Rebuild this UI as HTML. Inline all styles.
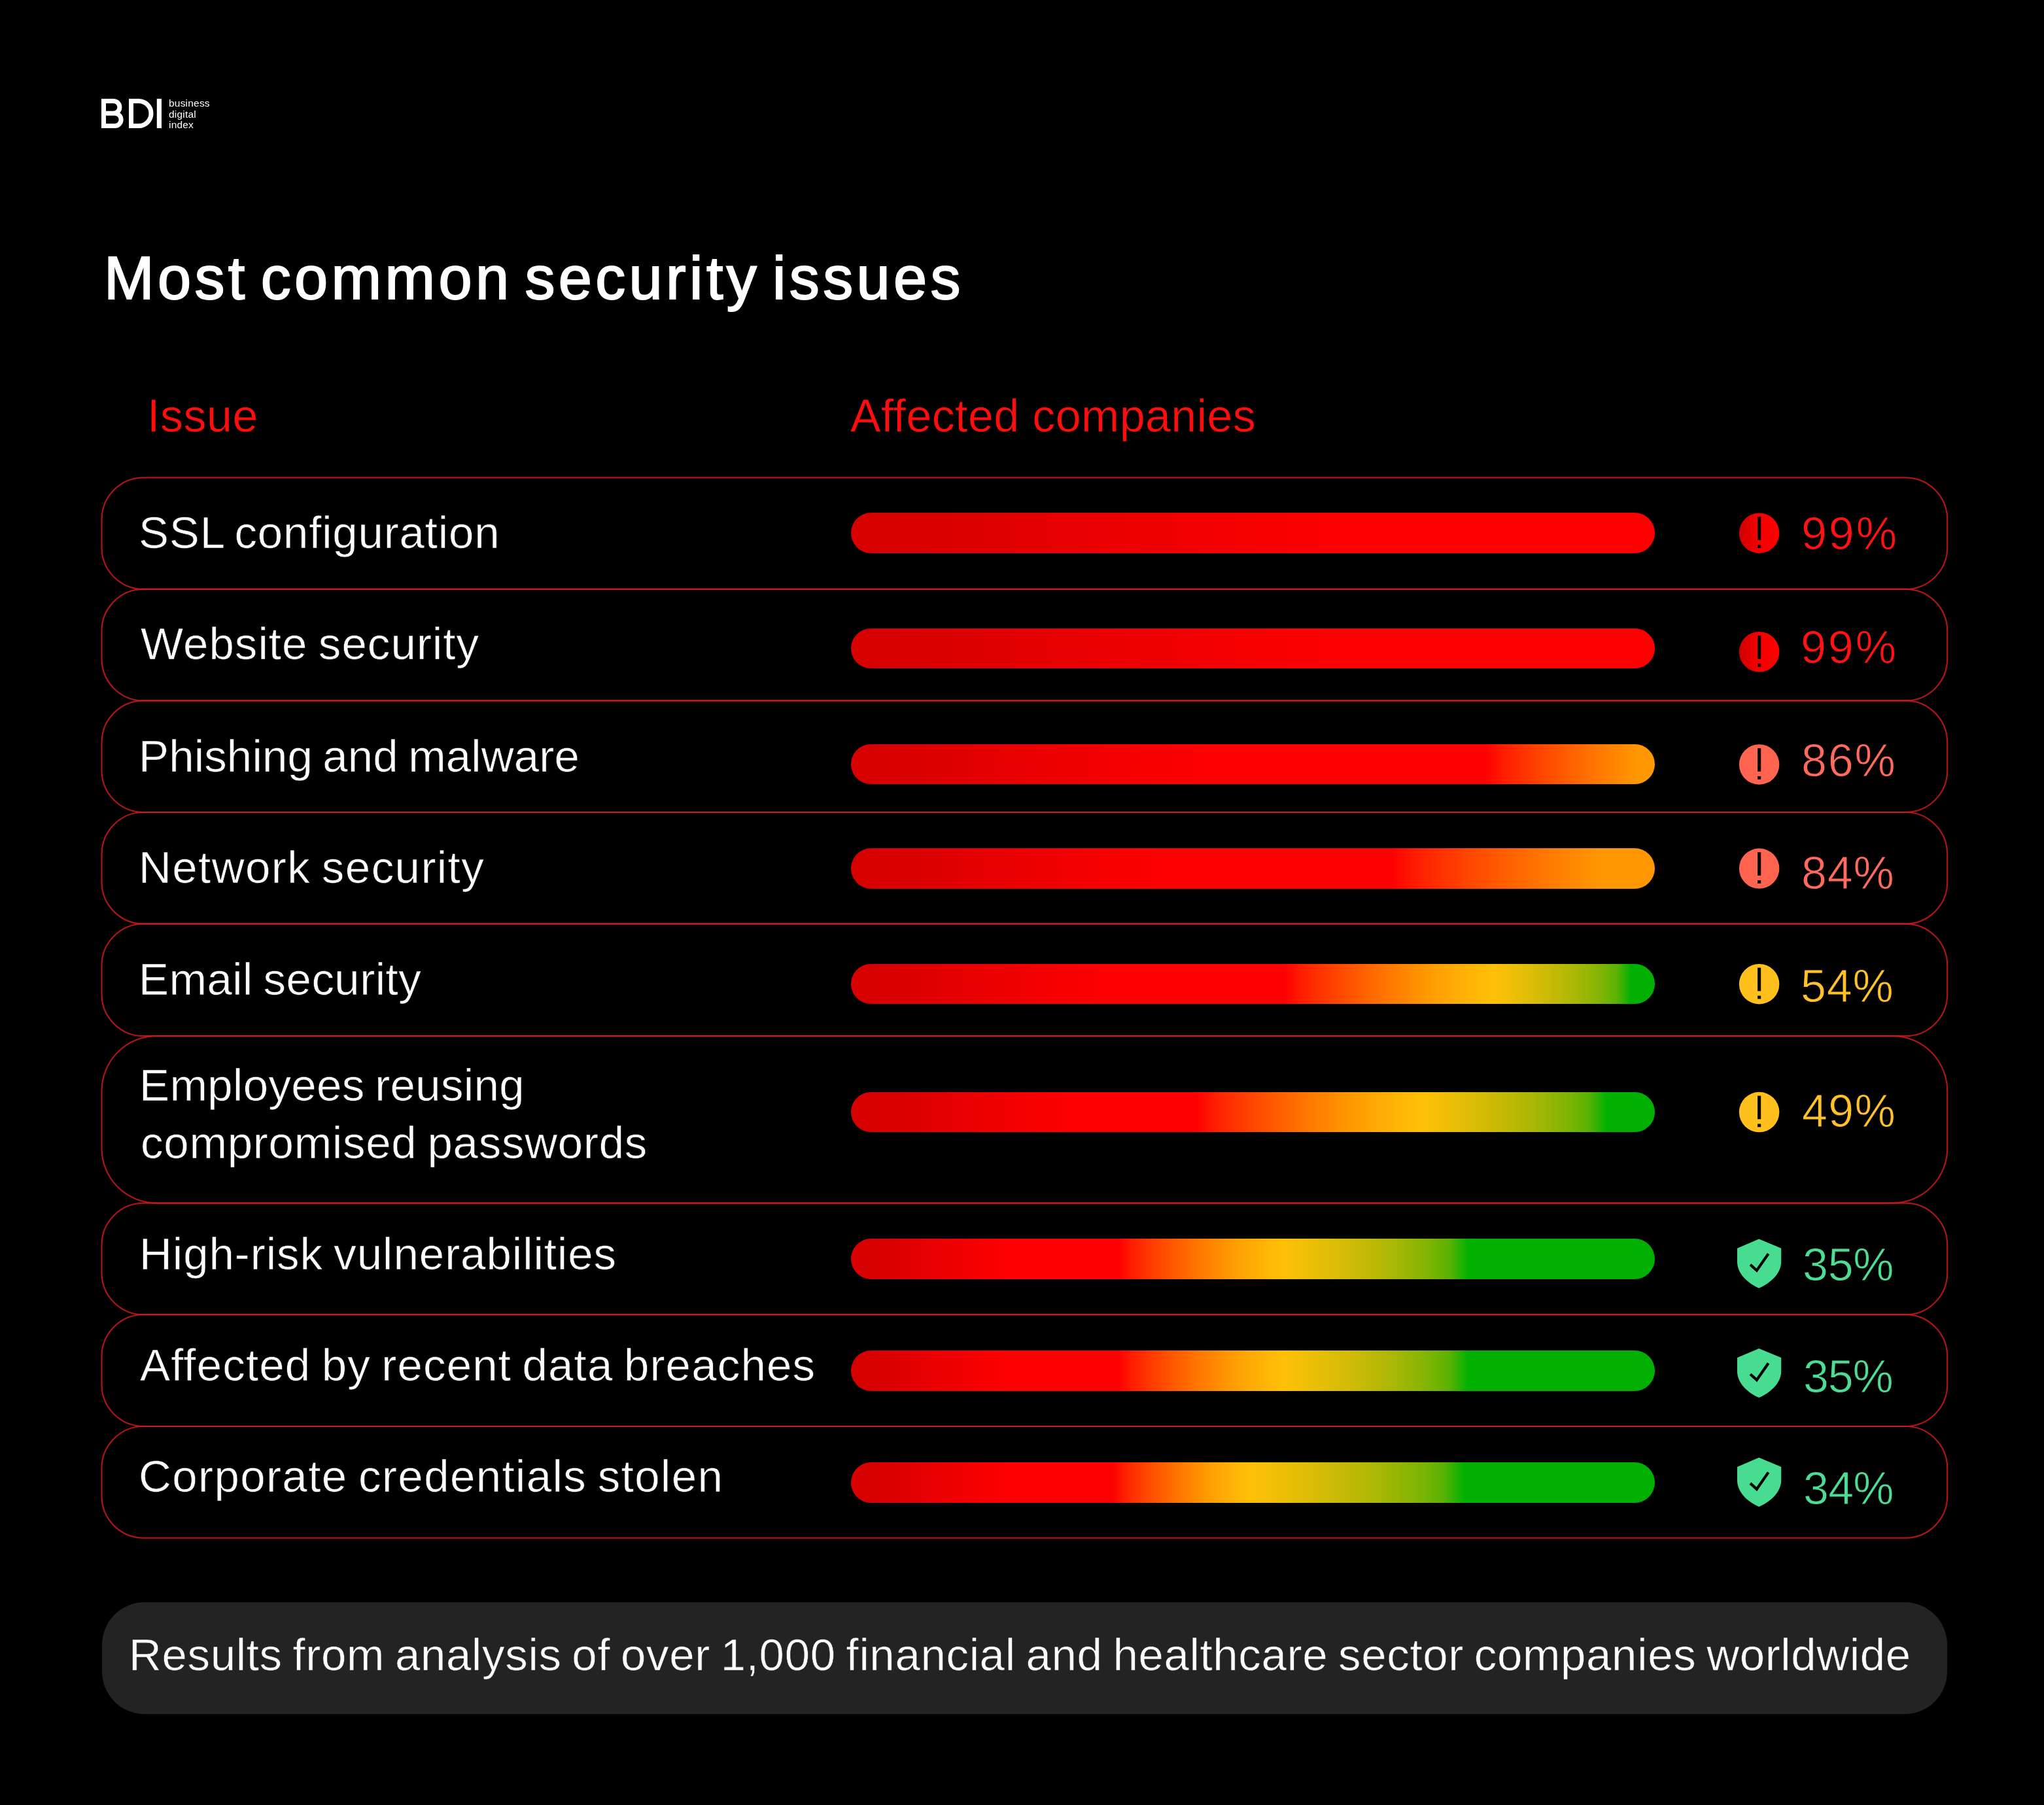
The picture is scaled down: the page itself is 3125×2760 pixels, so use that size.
<!DOCTYPE html>
<html><head><meta charset="utf-8"><title>Most common security issues</title>
<style>
html,body{margin:0;padding:0;background:#000;}
body{width:3125px;height:2760px;position:relative;overflow:hidden;font-family:"Liberation Sans",sans-serif;color:#fff;}
.t{position:absolute;white-space:nowrap;line-height:1;margin:0;will-change:transform;}
.lbl{font-size:69px;color:#fdfdfd;word-spacing:-4px;-webkit-text-stroke:0.6px #000;}
.hd{font-size:70px;color:#ff0d0d;-webkit-text-stroke:0.6px #000;}
.pct{font-size:70px;-webkit-text-stroke:0.9px #000;}
.bar{position:absolute;left:1301.2px;width:1229.3px;height:61.4px;border-radius:31px;}
svg{position:absolute;left:0;top:0;overflow:visible;}
</style></head>
<body>
<svg id="logo" width="3125" height="300" fill="none" stroke="#fff" stroke-width="7" stroke-linejoin="miter">
<path d="M158.5 154.5H173.5a9.4 9.4 0 0 1 0 18.8H175.5a9.6 9.6 0 0 1 0 19.2H158.5ZM158.5 173.3H174"/>
<path d="M200.5 154.5H212a19 19 0 0 1 0 38H200.5Z"/>
<path d="M243.4 151V196" stroke-width="7.2"/>
</svg>
<div class="t" id="logos" style="left:257.5px;top:149.5px;font-size:15.5px;line-height:16.6px;white-space:pre;letter-spacing:0.2px;">business
digital
index</div>
<div class="t " id="title" style="left:159.00px;top:379px;letter-spacing:5.346px;font-size:92px;-webkit-text-stroke:2px #fff;word-spacing:-12px;">Most common security issues</div>
<div class="t hd" id="h1" style="left:225.00px;top:601px;letter-spacing:0.500px;">Issue</div>
<div class="t hd" id="h2" style="left:1299.80px;top:601px;letter-spacing:0.365px;">Affected companies</div>
<svg id="rows" width="3125" height="2760" fill="none" stroke="rgba(215,28,28,0.8)" stroke-width="2.2">
<rect x="155.5" y="730.3" width="2821.7" height="170.6" rx="64" ry="64"/>
<rect x="155.5" y="900.9" width="2821.7" height="170.5" rx="64" ry="64"/>
<rect x="155.5" y="1071.4" width="2821.7" height="170.6" rx="64" ry="64"/>
<rect x="155.5" y="1242" width="2821.7" height="170.6" rx="64" ry="64"/>
<rect x="155.5" y="1412.6" width="2821.7" height="171.6" rx="64" ry="64"/>
<rect x="155.5" y="1584.2" width="2821.7" height="255.5" rx="84" ry="84"/>
<rect x="155.5" y="1839.7" width="2821.7" height="170.5" rx="64" ry="64"/>
<rect x="155.5" y="2010.2" width="2821.7" height="170.8" rx="64" ry="64"/>
<rect x="155.5" y="2181" width="2821.7" height="170.6" rx="64" ry="64"/>
</svg>
<div class="t lbl" id="l1" style="left:211.80px;top:780px;letter-spacing:0.837px;">SSL configuration</div>
<div class="t lbl" id="l2" style="left:214.80px;top:950px;letter-spacing:1.080px;">Website security</div>
<div class="t lbl" id="l3" style="left:212.00px;top:1122px;letter-spacing:0.158px;">Phishing and malware</div>
<div class="t lbl" id="l4" style="left:212.40px;top:1292px;letter-spacing:1.453px;">Network security</div>
<div class="t lbl" id="l5" style="left:212.20px;top:1463px;letter-spacing:0.477px;">Email security</div>
<div class="t lbl" id="l6a" style="left:213.10px;top:1625px;letter-spacing:0.363px;">Employees reusing</div>
<div class="t lbl" id="l6b" style="left:214.50px;top:1713px;letter-spacing:0.760px;">compromised passwords</div>
<div class="t lbl" id="l7" style="left:212.60px;top:1883px;letter-spacing:0.988px;">High-risk vulnerabilities</div>
<div class="t lbl" id="l8" style="left:213.90px;top:2053px;letter-spacing:1.181px;">Affected by recent data breaches</div>
<div class="t lbl" id="l9" style="left:212.00px;top:2223px;letter-spacing:1.407px;">Corporate credentials stolen</div>
<div class="bar" id="b1" style="top:784.2px;background:linear-gradient(90deg,#d60000 0.00%,#d60000 0.80%,#d60000 1.60%,#d70000 2.40%,#d70000 3.20%,#d70000 4.00%,#d70000 4.80%,#d70000 5.60%,#d80000 6.40%,#d80000 7.20%,#d80000 8.00%,#dc0000 13.40%,#e00000 18.80%,#e50000 24.20%,#e90000 29.60%,#ec0000 35.00%,#f00000 40.40%,#f40000 45.80%,#f80000 51.20%,#fb0000 56.60%,#ff0000 62.00%,#ff0000 100.00%);"></div>
<div class="bar" id="b2" style="top:961.1px;background:linear-gradient(90deg,#d60000 0.00%,#d60000 0.80%,#d60000 1.60%,#d70000 2.40%,#d70000 3.20%,#d70000 4.00%,#d70000 4.80%,#d70000 5.60%,#d80000 6.40%,#d80000 7.20%,#d80000 8.00%,#dc0000 13.40%,#e00000 18.80%,#e50000 24.20%,#e90000 29.60%,#ec0000 35.00%,#f00000 40.40%,#f40000 45.80%,#f80000 51.20%,#fb0000 56.60%,#ff0000 62.00%,#ff0000 100.00%);"></div>
<div class="bar" id="b3" style="top:1137.9px;background:linear-gradient(90deg,#d60000 0.00%,#d60000 0.60%,#d60000 1.20%,#d70000 1.80%,#d70000 2.40%,#d70000 3.00%,#d70000 3.60%,#d70000 4.20%,#d80000 4.80%,#d80000 5.40%,#d80000 6.00%,#dc0000 9.90%,#e00000 13.80%,#e50000 17.70%,#e90000 21.60%,#ec0000 25.50%,#f00000 29.40%,#f40000 33.30%,#f80000 37.20%,#fb0000 41.10%,#ff0000 45.00%,#ff0000 79.00%,#ff1a00 80.90%,#ff2c00 82.80%,#ff3c00 84.70%,#ff4b00 86.60%,#ff5900 88.50%,#ff6700 90.40%,#ff7400 92.30%,#ff8000 94.20%,#ff8c00 96.10%,#ff9800 98.00%,#ff9800 100.00%);"></div>
<div class="bar" id="b4" style="top:1297.2px;background:linear-gradient(90deg,#d60000 0.00%,#d60000 0.60%,#d60000 1.20%,#d70000 1.80%,#d70000 2.40%,#d70000 3.00%,#d70000 3.60%,#d70000 4.20%,#d80000 4.80%,#d80000 5.40%,#d80000 6.00%,#dc0000 9.40%,#e00000 12.80%,#e50000 16.20%,#e90000 19.60%,#ec0000 23.00%,#f00000 26.40%,#f40000 29.80%,#f80000 33.20%,#fb0000 36.60%,#ff0000 40.00%,#ff0000 67.30%,#ff1a00 69.91%,#ff2c00 72.52%,#ff3c00 75.13%,#ff4b00 77.74%,#ff5900 80.35%,#ff6700 82.96%,#ff7400 85.57%,#ff8000 88.18%,#ff8c00 90.79%,#ff9800 93.40%,#ff9800 100.00%);"></div>
<div class="bar" id="b5" style="top:1473.9px;background:linear-gradient(90deg,#d60000 0.00%,#d60000 0.50%,#d60000 1.00%,#d70000 1.50%,#d70000 2.00%,#d70000 2.50%,#d70000 3.00%,#d70000 3.50%,#d80000 4.00%,#d80000 4.50%,#d80000 5.00%,#dc0000 7.70%,#e00000 10.40%,#e50000 13.10%,#e90000 15.80%,#ec0000 18.50%,#f00000 21.20%,#f40000 23.90%,#f80000 26.60%,#fb0000 29.30%,#ff0000 32.00%,#ff0000 54.00%,#ff1a00 55.76%,#ff2c00 57.52%,#ff3c00 59.28%,#ff4b00 61.04%,#ff5900 62.80%,#ff6700 64.56%,#ff7400 66.32%,#ff8000 68.08%,#ff8c00 69.84%,#ff9800 71.60%,#ff9d02 72.44%,#ffa103 73.28%,#ffa604 74.12%,#ffaa05 74.96%,#ffae05 75.80%,#ffb206 76.64%,#ffb606 77.48%,#ffba06 78.32%,#ffbd07 79.16%,#ffc107 80.00%,#f3bf07 81.70%,#e6be06 83.40%,#d9bc06 85.10%,#caba06 86.80%,#bab905 88.50%,#a8b705 90.20%,#94b504 91.90%,#7bb404 93.60%,#5ab203 95.30%,#02b002 97.00%,#02b002 100.00%);"></div>
<div class="bar" id="b6" style="top:1669.7px;background:linear-gradient(90deg,#d60000 0.00%,#d60000 0.50%,#d60000 1.00%,#d70000 1.50%,#d70000 2.00%,#d70000 2.50%,#d70000 3.00%,#d70000 3.50%,#d80000 4.00%,#d80000 4.50%,#d80000 5.00%,#dc0000 7.30%,#e00000 9.60%,#e50000 11.90%,#e90000 14.20%,#ec0000 16.50%,#f00000 18.80%,#f40000 21.10%,#f80000 23.40%,#fb0000 25.70%,#ff0000 28.00%,#ff0000 43.00%,#ff1a00 44.90%,#ff2c00 46.80%,#ff3c00 48.70%,#ff4b00 50.60%,#ff5900 52.50%,#ff6700 54.40%,#ff7400 56.30%,#ff8000 58.20%,#ff8c00 60.10%,#ff9800 62.00%,#ff9d02 62.90%,#ffa103 63.80%,#ffa604 64.70%,#ffaa05 65.60%,#ffae05 66.50%,#ffb206 67.40%,#ffb606 68.30%,#ffba06 69.20%,#ffbd07 70.10%,#ffc107 71.00%,#f3bf07 73.30%,#e6be06 75.60%,#d9bc06 77.90%,#caba06 80.20%,#bab905 82.50%,#a8b705 84.80%,#94b504 87.10%,#7bb404 89.40%,#5ab203 91.70%,#02b002 94.00%,#02b002 100.00%);"></div>
<div class="bar" id="b7" style="top:1894.4px;background:linear-gradient(90deg,#d60000 0.00%,#d60000 0.40%,#d60000 0.80%,#d70000 1.20%,#d70000 1.60%,#d70000 2.00%,#d70000 2.40%,#d70000 2.80%,#d80000 3.20%,#d80000 3.60%,#d80000 4.00%,#dc0000 5.60%,#e00000 7.20%,#e50000 8.80%,#e90000 10.40%,#ec0000 12.00%,#f00000 13.60%,#f40000 15.20%,#f80000 16.80%,#fb0000 18.40%,#ff0000 20.00%,#ff0000 33.40%,#ff1a00 34.76%,#ff2c00 36.12%,#ff3c00 37.48%,#ff4b00 38.84%,#ff5900 40.20%,#ff6700 41.56%,#ff7400 42.92%,#ff8000 44.28%,#ff8c00 45.64%,#ff9800 47.00%,#ff9d02 47.68%,#ffa103 48.36%,#ffa604 49.04%,#ffaa05 49.72%,#ffae05 50.40%,#ffb206 51.08%,#ffb606 51.76%,#ffba06 52.44%,#ffbd07 53.12%,#ffc107 53.80%,#f3bf07 56.10%,#e6be06 58.40%,#d9bc06 60.70%,#caba06 63.00%,#bab905 65.30%,#a8b705 67.60%,#94b504 69.90%,#7bb404 72.20%,#5ab203 74.50%,#02b002 76.80%,#02b002 100.00%);"></div>
<div class="bar" id="b8" style="top:2065.3px;background:linear-gradient(90deg,#d60000 0.00%,#d60000 0.40%,#d60000 0.80%,#d70000 1.20%,#d70000 1.60%,#d70000 2.00%,#d70000 2.40%,#d70000 2.80%,#d80000 3.20%,#d80000 3.60%,#d80000 4.00%,#dc0000 5.60%,#e00000 7.20%,#e50000 8.80%,#e90000 10.40%,#ec0000 12.00%,#f00000 13.60%,#f40000 15.20%,#f80000 16.80%,#fb0000 18.40%,#ff0000 20.00%,#ff0000 33.40%,#ff1a00 34.76%,#ff2c00 36.12%,#ff3c00 37.48%,#ff4b00 38.84%,#ff5900 40.20%,#ff6700 41.56%,#ff7400 42.92%,#ff8000 44.28%,#ff8c00 45.64%,#ff9800 47.00%,#ff9d02 47.68%,#ffa103 48.36%,#ffa604 49.04%,#ffaa05 49.72%,#ffae05 50.40%,#ffb206 51.08%,#ffb606 51.76%,#ffba06 52.44%,#ffbd07 53.12%,#ffc107 53.80%,#f3bf07 56.10%,#e6be06 58.40%,#d9bc06 60.70%,#caba06 63.00%,#bab905 65.30%,#a8b705 67.60%,#94b504 69.90%,#7bb404 72.20%,#5ab203 74.50%,#02b002 76.80%,#02b002 100.00%);"></div>
<div class="bar" id="b9" style="top:2236.2px;background:linear-gradient(90deg,#d60000 0.00%,#d60000 0.40%,#d60000 0.80%,#d70000 1.20%,#d70000 1.60%,#d70000 2.00%,#d70000 2.40%,#d70000 2.80%,#d80000 3.20%,#d80000 3.60%,#d80000 4.00%,#dc0000 5.60%,#e00000 7.20%,#e50000 8.80%,#e90000 10.40%,#ec0000 12.00%,#f00000 13.60%,#f40000 15.20%,#f80000 16.80%,#fb0000 18.40%,#ff0000 20.00%,#ff0000 32.60%,#ff1a00 33.74%,#ff2c00 34.88%,#ff3c00 36.02%,#ff4b00 37.16%,#ff5900 38.30%,#ff6700 39.44%,#ff7400 40.58%,#ff8000 41.72%,#ff8c00 42.86%,#ff9800 44.00%,#ff9d02 44.57%,#ffa103 45.14%,#ffa604 45.71%,#ffaa05 46.28%,#ffae05 46.85%,#ffb206 47.42%,#ffb606 47.99%,#ffba06 48.56%,#ffbd07 49.13%,#ffc107 49.70%,#f3bf07 52.36%,#e6be06 55.02%,#d9bc06 57.68%,#caba06 60.34%,#bab905 63.00%,#a8b705 65.66%,#94b504 68.32%,#7bb404 70.98%,#5ab203 73.64%,#02b002 76.30%,#02b002 100.00%);"></div>
<svg id="icons" width="3125" height="2760"><defs><linearGradient id="gr" x1="0" x2="1" y1="0" y2="0"><stop offset="0" stop-color="#cc0000"/><stop offset="0.45" stop-color="#f40000"/><stop offset="1" stop-color="#ff0000"/></linearGradient></defs>
<circle cx="2689.6" cy="815.15" r="30.75" fill="url(#gr)"/>
<rect x="2687.00" y="790.20" width="5.2" height="35.7" fill="#000"/>
<rect x="2687.00" y="833.10" width="5.2" height="4.8" fill="#000"/>
<circle cx="2689.6" cy="996.75" r="30.75" fill="url(#gr)"/>
<rect x="2687.00" y="971.80" width="5.2" height="35.7" fill="#000"/>
<rect x="2687.00" y="1014.70" width="5.2" height="4.8" fill="#000"/>
<circle cx="2689.6" cy="1168.95" r="30.75" fill="#ff6450"/>
<rect x="2687.00" y="1144.00" width="5.2" height="35.7" fill="#000"/>
<rect x="2687.00" y="1186.90" width="5.2" height="4.8" fill="#000"/>
<circle cx="2689.6" cy="1328.05" r="30.75" fill="#ff6450"/>
<rect x="2687.00" y="1303.10" width="5.2" height="35.7" fill="#000"/>
<rect x="2687.00" y="1346.00" width="5.2" height="4.8" fill="#000"/>
<circle cx="2689.6" cy="1504.65" r="30.75" fill="#ffc01e"/>
<rect x="2687.00" y="1479.70" width="5.2" height="35.7" fill="#000"/>
<rect x="2687.00" y="1522.60" width="5.2" height="4.8" fill="#000"/>
<circle cx="2689.6" cy="1700.55" r="30.75" fill="#ffc01e"/>
<rect x="2687.00" y="1675.60" width="5.2" height="35.7" fill="#000"/>
<rect x="2687.00" y="1718.50" width="5.2" height="4.8" fill="#000"/>
<g transform="translate(2656 1894.5)"><path d="M33.2 0L67.2 14.2V35C67.2 48.5 57 64.5 33.2 75.2C9.5 64.5 0 48.5 0 35V14.2Z" fill="#48dc90"/><path d="M20 39.3L29.8 48.2L47.6 22.6" fill="none" stroke="#000" stroke-width="4.2"/></g>
<g transform="translate(2656 2061.9)"><path d="M33.2 0L67.2 14.2V35C67.2 48.5 57 64.5 33.2 75.2C9.5 64.5 0 48.5 0 35V14.2Z" fill="#48dc90"/><path d="M20 39.3L29.8 48.2L47.6 22.6" fill="none" stroke="#000" stroke-width="4.2"/></g>
<g transform="translate(2656 2228.8)"><path d="M33.2 0L67.2 14.2V35C67.2 48.5 57 64.5 33.2 75.2C9.5 64.5 0 48.5 0 35V14.2Z" fill="#48dc90"/><path d="M20 39.3L29.8 48.2L47.6 22.6" fill="none" stroke="#000" stroke-width="4.2"/></g>
</svg>
<div class="t pct" id="p1" style="left:2753.50px;top:781px;letter-spacing:2.900px;color:#ff1212;">99%</div>
<div class="t pct" id="p2" style="left:2753.00px;top:955px;letter-spacing:2.900px;color:#ff1212;">99%</div>
<div class="t pct" id="p3" style="left:2754.20px;top:1128px;letter-spacing:1.800px;color:#ff6a5e;">86%</div>
<div class="t pct" id="p4" style="left:2754.20px;top:1300px;letter-spacing:0.800px;color:#ff6a5e;">84%</div>
<div class="t pct" id="p5" style="left:2753.20px;top:1473px;letter-spacing:0.800px;color:#ffc12a;">54%</div>
<div class="t pct" id="p6" style="left:2755.20px;top:1664px;letter-spacing:1.300px;color:#ffc12a;">49%</div>
<div class="t pct" id="p7" style="left:2756.30px;top:1899px;letter-spacing:-0.300px;color:#4cdc94;">35%</div>
<div class="t pct" id="p8" style="left:2757.20px;top:2070px;letter-spacing:-1.200px;color:#4cdc94;">35%</div>
<div class="t pct" id="p9" style="left:2757.20px;top:2241px;letter-spacing:-0.800px;color:#4cdc94;">34%</div>
<div id="foot" style="position:absolute;left:155.8px;top:2449.5px;width:2821.2px;height:171.3px;border-radius:65px;background:#232323;"></div>
<div class="t lbl" id="ft" style="left:197.00px;top:2496px;letter-spacing:0.659px;-webkit-text-stroke-color:#232323;">Results from analysis of over 1,000 financial and healthcare sector companies worldwide</div>
</body></html>
